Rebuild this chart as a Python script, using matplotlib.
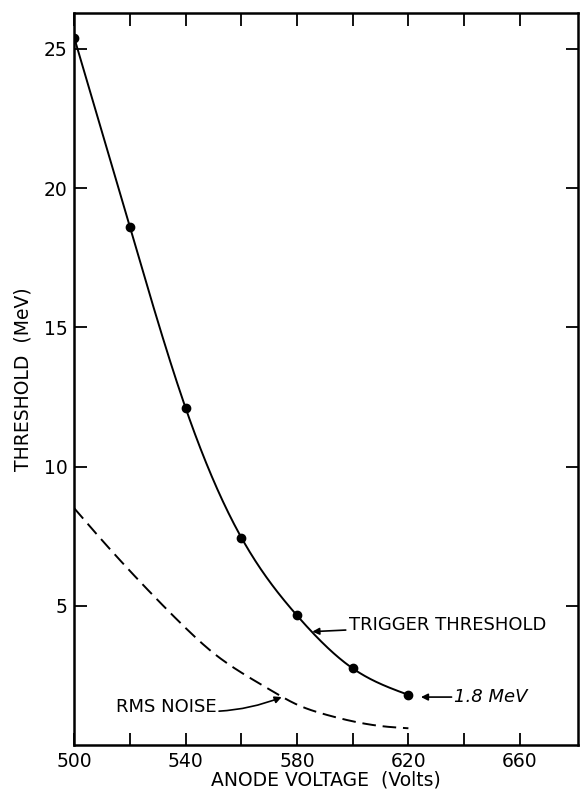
import numpy as np
import matplotlib
matplotlib.use('Agg')
import matplotlib.pyplot as plt

# trigger threshold measurements (anode volts, MeV)
volts = [500, 520, 540, 560, 580, 600, 620]
threshold = [25.4, 18.6, 12.1, 7.45, 4.65, 2.75, 1.8]

# rms noise curve
noise_volts = [500, 510, 520, 530, 540, 550, 560, 570, 580, 590, 600, 610, 620]
noise_mev = [8.5, 7.35, 6.25, 5.2, 4.2, 3.3, 2.6, 2.0, 1.45, 1.1, 0.85, 0.68, 0.6]

xticks = [500, 540, 580, 620, 660]
yticks = [5, 10, 15, 20, 25]


def natural_spline(x, y, n=300):
    # smooth curve through the points, like a french curve
    x = np.asarray(x, float)
    y = np.asarray(y, float)
    k = len(x)
    h = np.diff(x)
    A = np.zeros((k, k))
    b = np.zeros(k)
    A[0, 0] = A[-1, -1] = 1
    for i in range(1, k - 1):
        A[i, i - 1] = h[i - 1]
        A[i, i] = 2 * (h[i - 1] + h[i])
        A[i, i + 1] = h[i]
        b[i] = 6 * ((y[i + 1] - y[i]) / h[i] - (y[i] - y[i - 1]) / h[i - 1])
    M = np.linalg.solve(A, b)
    xs = np.linspace(x[0], x[-1], n)
    idx = np.clip(np.searchsorted(x, xs) - 1, 0, k - 2)
    x0, x1 = x[idx], x[idx + 1]
    hh = x1 - x0
    t0, t1 = x1 - xs, xs - x0
    ys = (M[idx] * t0**3 + M[idx + 1] * t1**3) / (6 * hh) \
        + (y[idx] / hh - M[idx] * hh / 6) * t0 \
        + (y[idx + 1] / hh - M[idx + 1] * hh / 6) * t1
    return xs, ys


plt.rcParams['font.family'] = ['DejaVu Sans']

fig = plt.figure(figsize=(5.8, 7.9), dpi=100)
ax = fig.add_axes([0.128, 0.057, 0.869, 0.927])

sx, sy = natural_spline(volts, threshold)
ax.plot(sx, sy, color='black', lw=1.4)
ax.plot(volts, threshold, 'o', color='black', ms=6)

nx, ny = natural_spline(noise_volts, noise_mev)
ax.plot(nx, ny, color='black', lw=1.4, dashes=(7, 3.5))

ax.set_xlim(500, 681)
ax.set_ylim(0, 26.3)
ax.set_xticks(xticks)
ax.set_xticks([520, 560, 600, 640], minor=True)
ax.set_yticks(yticks)
ax.tick_params(which='both', direction='in', length=9, width=1.3,
               top=True, right=True, labelsize=13.5, pad=5)
for s in ax.spines.values():
    s.set_linewidth(1.8)

ax.set_xlabel('ANODE VOLTAGE  (Volts)', fontsize=13.5, labelpad=0)
ax.set_ylabel('THRESHOLD  (MeV)', fontsize=13.5, labelpad=8)

fs = 13
ax.annotate('TRIGGER THRESHOLD', xy=(585.5, 4.07), xytext=(598.5, 4.3),
            fontsize=fs, va='center', ha='left',
            arrowprops=dict(arrowstyle='-|>', color='black', lw=1.2,
                            shrinkA=0, shrinkB=0, mutation_scale=10))
ax.annotate('1.8 MeV', xy=(624.5, 1.72), xytext=(636.5, 1.72),
            fontsize=fs, va='center', ha='left', style='italic',
            arrowprops=dict(arrowstyle='-|>', color='black', lw=1.2,
                            shrinkA=0, shrinkB=0, mutation_scale=10))
ax.annotate('RMS NOISE', xy=(574.5, 1.72), xytext=(551, 1.36),
            fontsize=fs, va='center', ha='right',
            arrowprops=dict(arrowstyle='-|>', color='black', lw=1.2,
                            shrinkA=0, shrinkB=0, mutation_scale=10,
                            connectionstyle='arc3,rad=0.15'))

fig.savefig('out.png', dpi=100)
